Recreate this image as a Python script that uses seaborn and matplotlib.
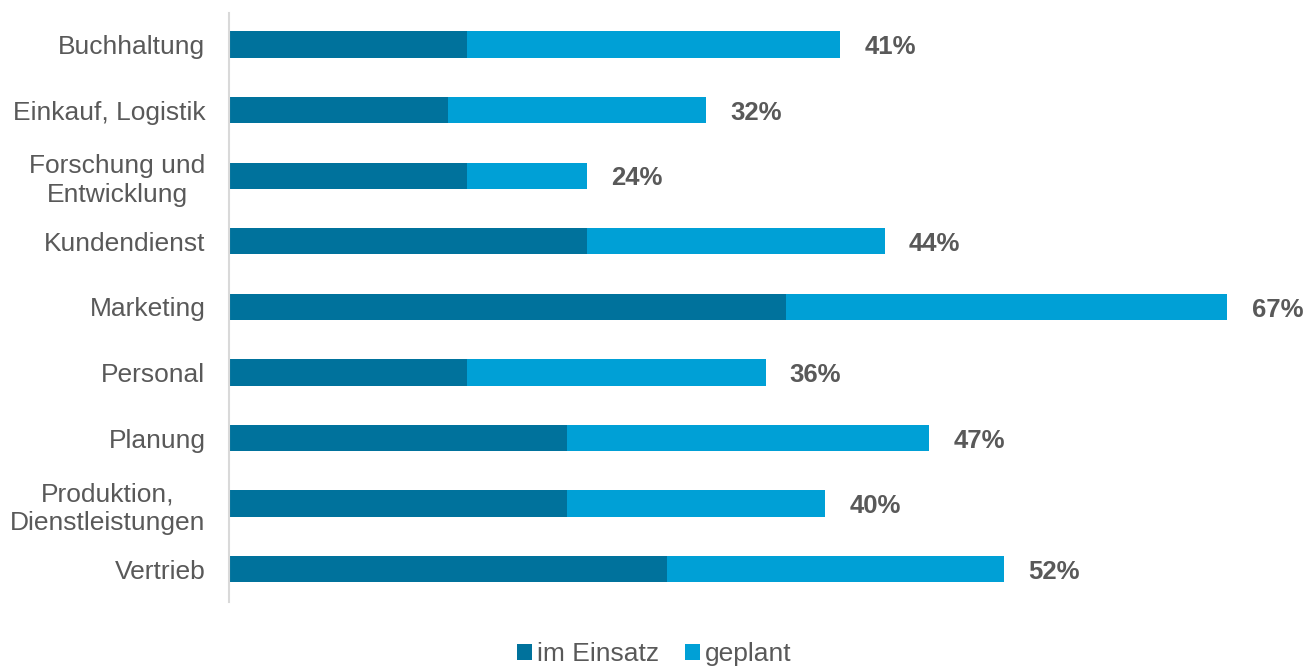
import matplotlib
matplotlib.use("Agg")
import matplotlib.pyplot as plt
import seaborn as sns
import pandas as pd
from matplotlib.patches import Patch

categories = [
    "Buchhaltung",
    "Einkauf, Logistik",
    "Forschung und\nEntwicklung",
    "Kundendienst",
    "Marketing",
    "Personal",
    "Planung",
    "Produktion,\nDienstleistungen",
    "Vertrieb",
]
im_einsatz = [16, 14.7, 16, 24, 37.4, 16, 22.7, 22.7, 29.4]
gesamt = [41, 32, 24, 44, 67, 36, 47, 40, 52]
geplant = [t - e for t, e in zip(gesamt, im_einsatz)]

df = pd.DataFrame({"Bereich": categories, "im Einsatz": im_einsatz,
                   "geplant": geplant, "gesamt": gesamt})

DARK = "#00729C"
LIGHT = "#00A0D6"
TEXT = "#595959"

sns.set_theme(style="white")
plt.rcParams["font.family"] = ["Liberation Sans", "DejaVu Sans"]

fig = plt.figure(figsize=(13.09, 6.66), dpi=100)
ax = fig.add_axes([229 / 1309, 64 / 666, 1073 / 1309, 589 / 666])

# total bar (im Einsatz + geplant), then the deployed share on top
sns.barplot(data=df, y="Bereich", x="gesamt", color=LIGHT, orient="h",
            width=0.4, saturation=1, linewidth=0, ax=ax)
sns.barplot(data=df, y="Bereich", x="im Einsatz", color=DARK, orient="h",
            width=0.4, saturation=1, linewidth=0, ax=ax)

ax.set_xlim(0, 72)
ax.set_ylim(8.5, -0.48)
ax.set_xlabel("")
ax.set_ylabel("")
ax.set_xticks([])
for s in ["top", "right", "bottom"]:
    ax.spines[s].set_visible(False)
ax.spines["left"].set_color("#D9D9D9")
ax.spines["left"].set_linewidth(1.5)

ax.tick_params(axis="y", length=0, pad=17)
for lbl in ax.get_yticklabels():
    lbl.set_fontsize(19)
    lbl.set_color(TEXT)
    lbl.set_multialignment("center")
    lbl.set_linespacing(1.25)

for i, t in enumerate(gesamt):
    ax.annotate(f"{t}%", xy=(t, i), xytext=(17.5, -2), textcoords="offset points",
                ha="left", va="center", fontsize=18.5, fontweight="bold",
                color=TEXT)

handles = [Patch(facecolor=DARK, edgecolor="none", label="im Einsatz"),
           Patch(facecolor=LIGHT, edgecolor="none", label="geplant")]
fig.legend(handles=handles, loc="lower center", bbox_to_anchor=(0.5, -0.036),
           ncol=2, frameon=False, fontsize=19, labelcolor=TEXT,
           handlelength=0.55, handleheight=0.55, handletextpad=0.2,
           columnspacing=1.0)

fig.savefig("out.png", dpi=100)
